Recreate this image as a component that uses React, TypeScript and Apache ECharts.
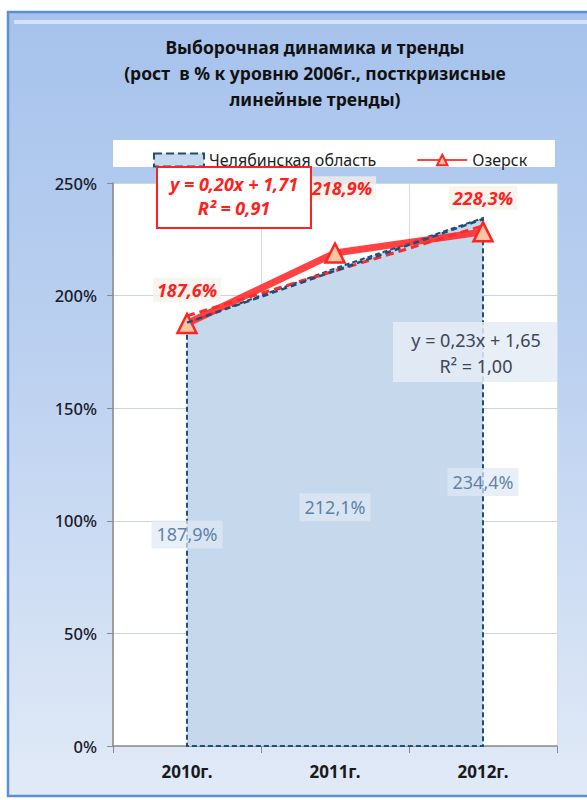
import React, { useEffect, useRef } from 'react';
import * as echarts from 'echarts';

const categories = ['2010г.', '2011г.', '2012г.'];
const chelyabinsk = [187.9, 212.1, 234.4];
const ozersk = [187.6, 218.9, 228.3];
const chelTrend = [188, 211, 234];
const ozerskTrend = [191, 211, 231];
const chelEquation = ['y = 0,23x + 1,65', 'R² = 1,00'];
const ozerskEquation = ['y = 0,20x + 1,71', 'R² = 0,91'];
const titleLines = [
  'Выборочная динамика и тренды',
  '(рост  в % к уровню 2006г., посткризисные',
  'линейные тренды)',
];
const seriesNames = ['Челябинская область', 'Озерск'];

const FONT = '"Noto Sans", "Open Sans", sans-serif';
const fmt = (v: number) => v.toFixed(1).replace('.', ',') + '%';

export default function App() {
  const ref = useRef<HTMLDivElement>(null);
  useEffect(() => {
    if (!ref.current) return;
    const chart = echarts.init(ref.current, undefined, { renderer: 'svg' });
    const option: any = {
      animation: false,
      textStyle: { fontFamily: FONT },
      title: {
        text: titleLines.join('\n'),
        left: 310,
        top: 29,
        textAlign: 'center',
        textStyle: {
          fontFamily: FONT,
          fontSize: 17.5,
          fontWeight: 'bold',
          color: '#111',
          lineHeight: 26,
        },
      },
      legend: {
        left: 148,
        top: 147,
        itemWidth: 50,
        itemHeight: 13,
        itemGap: 40,
        textStyle: { fontFamily: FONT, fontSize: 16, color: '#222' },
        data: [
          {
            name: seriesNames[0],
            icon: 'rect',
            itemStyle: { color: '#c6d8ec', borderColor: '#1f4e79', borderWidth: 2, borderType: 'dashed' },
          },
          { name: seriesNames[1] },
        ],
      },
      grid: {
        left: 113,
        right: 30,
        top: 183,
        bottom: 54,
        show: true,
        backgroundColor: '#ffffff',
        borderWidth: 0,
      },
      xAxis: {
        type: 'category',
        data: categories,
        boundaryGap: true,
        axisLine: { lineStyle: { color: '#8a8a8a', width: 1.5 } },
        axisTick: { show: true, length: 7, lineStyle: { color: '#8a8a8a' } },
        splitLine: { show: true, lineStyle: { color: '#d3dde9', width: 1 } },
        axisLabel: {
          fontFamily: FONT,
          fontSize: 17,
          fontWeight: 'bold',
          color: '#1a1a1a',
          margin: 17,
        },
      },
      yAxis: {
        type: 'value',
        min: 0,
        max: 250,
        interval: 50,
        axisLine: { show: true, lineStyle: { color: '#8a8a8a', width: 1.5 } },
        axisTick: { show: true, length: 6, lineStyle: { color: '#8a8a8a' } },
        splitLine: { show: true, lineStyle: { color: '#c9d5e4', width: 1 } },
        axisLabel: {
          formatter: '{value}%',
          fontFamily: FONT,
          fontSize: 16.5,
          fontWeight: 500,
          color: '#1a1a2a',
          margin: 16,
        },
      },
      graphic: [
        {
          type: 'rect',
          z: -10,
          silent: true,
          shape: { x: 8, y: 12, width: 600, height: 784 },
          style: {
            fill: new echarts.graphic.LinearGradient(0, 0, 0, 1, [
              { offset: 0, color: '#a6c2ec' },
              { offset: 0.45, color: '#bcd1f0' },
              { offset: 1, color: '#e1eaf7' },
            ]),
            stroke: '#5b8fd0',
            lineWidth: 2.5,
          },
        },
        {
          type: 'line',
          z: -9,
          silent: true,
          shape: { x1: 14, y1: 22, x2: 600, y2: 22 },
          style: { stroke: '#d3e2f8', lineWidth: 4 },
        },
        {
          type: 'rect',
          z: 3,
          silent: true,
          shape: { x: 113, y: 140, width: 442, height: 27 },
          style: { fill: '#ffffff' },
        },
        {
          type: 'rect',
          z: 5,
          silent: true,
          shape: { x: 157, y: 167, width: 154, height: 61 },
          style: { fill: '#ffffff', stroke: '#ff2020', lineWidth: 2 },
        },
        {
          type: 'text',
          z: 6,
          silent: true,
          x: 234,
          y: 196,
          style: {
            text: ozerskEquation.join('\n'),
            fill: '#ff2020',
            font: `italic bold 18px ${FONT}`,
            lineHeight: 24,
            align: 'center',
            verticalAlign: 'middle',
          },
        },
        {
          type: 'rect',
          z: 5,
          silent: true,
          shape: { x: 393, y: 322, width: 164, height: 60 },
          style: { fill: 'rgba(228,236,246,0.85)' },
        },
        {
          type: 'text',
          z: 6,
          silent: true,
          x: 476,
          y: 353,
          style: {
            text: chelEquation.join('\n'),
            fill: '#3b4657',
            font: `18px ${FONT}`,
            lineHeight: 26,
            align: 'center',
            verticalAlign: 'middle',
          },
        },
      ],
      series: [
        {
          name: seriesNames[0],
          type: 'custom',
          coordinateSystem: 'cartesian2d',
          encode: { x: 0, y: 1 },
          data: chelyabinsk.map((v, i) => [i, v]),
          itemStyle: { color: '#c6d8ec' },
          z: 2,
          renderItem: (params: any, api: any) => {
            if (params.dataIndex !== 0) return { type: 'group', children: [] };
            const top = chelyabinsk.map((v, i) => api.coord([i, v]));
            const baseStart = api.coord([0, 0]);
            const baseEnd = api.coord([chelyabinsk.length - 1, 0]);
            return {
              type: 'polygon',
              shape: { points: [...top, baseEnd, baseStart] },
              style: {
                fill: '#c6d8ec',
                stroke: '#1f4e79',
                lineWidth: 2,
                lineDash: [5, 3],
              },
            };
          },
        },
        {
          name: 'labels-chel',
          type: 'scatter',
          symbolSize: 0,
          z: 6,
          data: chelyabinsk.map((v) => v / 2),
          label: {
            show: true,
            position: 'inside',
            formatter: (p: any) => fmt(chelyabinsk[p.dataIndex]),
            fontFamily: FONT,
            fontSize: 18,
            color: '#3a6794',
            backgroundColor: 'rgba(224,233,244,0.9)',
            padding: [5, 5],
          },
        },
        {
          name: seriesNames[1],
          type: 'line',
          z: 3,
          data: ozersk.map((v, i) => ({
            value: v,
            label: i === 1 ? { offset: [7, -31] } : undefined,
          })),
          symbol: 'triangle',
          symbolSize: 19,
          lineStyle: { color: 'rgba(255,40,40,0.88)', width: 7 },
          itemStyle: { color: '#f8c6a0', borderColor: '#ff2424', borderWidth: 2.5 },
          label: {
            show: true,
            position: 'top',
            distance: 11,
            formatter: (p: any) => fmt(ozersk[p.dataIndex]),
            fontFamily: FONT,
            fontSize: 18,
            fontWeight: 'bold',
            fontStyle: 'italic',
            color: '#ff2020',
            backgroundColor: 'rgba(246,241,234,0.75)',
            padding: [3, 4],
          },
        },
        {
          name: 'trend-ozersk',
          type: 'line',
          z: 4,
          data: ozerskTrend,
          symbol: 'none',
          lineStyle: { color: '#ff2a2a', width: 3, type: [8, 5] },
        },
        {
          name: 'trend-chel',
          type: 'line',
          z: 4,
          data: chelTrend,
          symbol: 'none',
          lineStyle: { color: '#1f4e79', width: 2.5, type: [6, 4] },
        },
      ],
    };
    chart.setOption(option);
    return () => chart.dispose();
  }, []);
  return (
    <div
      ref={ref}
      style={{ position: 'absolute', left: 0, top: 0, width: 587, height: 800 }}
    />
  );
}
